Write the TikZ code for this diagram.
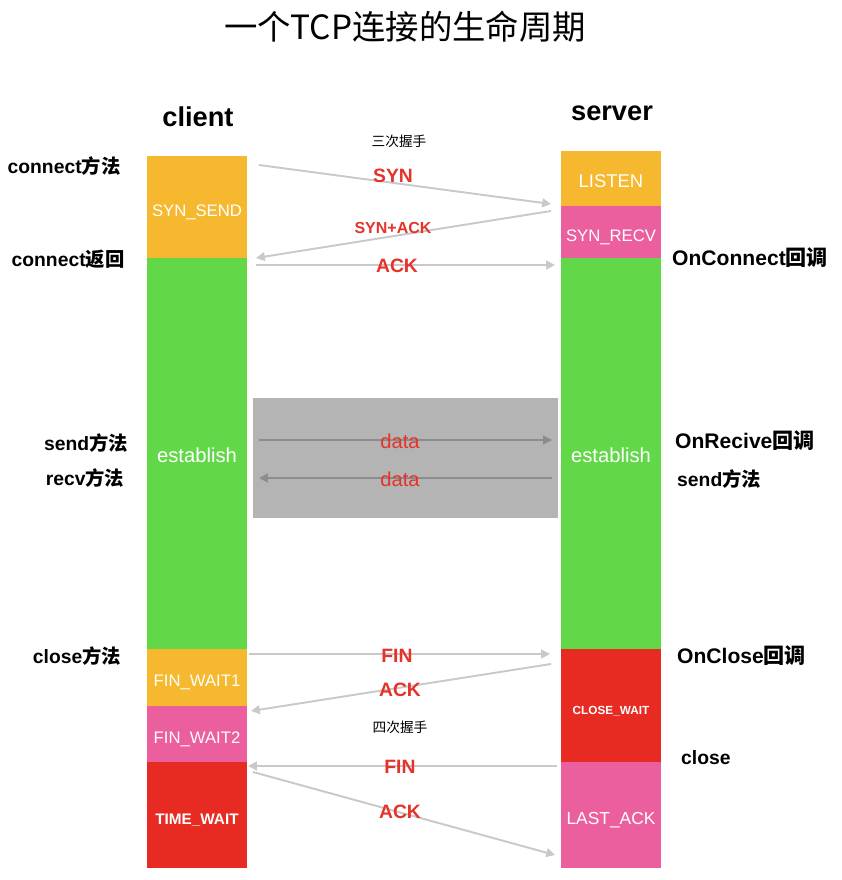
\documentclass[tikz,border=0pt]{standalone}
\usepackage{fontspec}
\setmainfont{Liberation Sans}
\newfontfamily\cjk{Noto Sans CJK SC}
\usetikzlibrary{positioning,arrows.meta}

\definecolor{stOrange}{HTML}{F5B82E}
\definecolor{stGreen}{HTML}{62D849}
\definecolor{stPink}{HTML}{EC5F9F}
\definecolor{stRed}{HTML}{E72B22}
\definecolor{msgRed}{HTML}{E5332A}
\definecolor{lineGray}{HTML}{C9C9C9}
\definecolor{dataGray}{HTML}{8C8C8C}
\definecolor{pipeGray}{HTML}{B4B4B4}

\tikzset{
  state/.style={minimum width=2cm, inner sep=0pt, outer sep=0pt, text=white,
                text height=1.05em, text depth=0pt,
                font=\fontsize{9.5}{11}\selectfont},
  msg/.style={lineGray, line width=1.1pt, -{Triangle[length=5pt,width=5pt]}},
  datamsg/.style={dataGray, line width=1.1pt, -{Triangle[length=5pt,width=5pt]}},
  msglabel/.style={text=msgRed, font=\bfseries\fontsize{11}{13}\selectfont},
  side/.style={font=\bfseries\fontsize{11}{13}\selectfont},
  callback/.style={anchor=west, font=\bfseries\fontsize{12}{14}\selectfont},
  role/.style={font=\bfseries\fontsize{15.5}{18}\selectfont},
  note/.style={font=\cjk\fontsize{7.8}{9}\selectfont},
}

\begin{document}
\begin{tikzpicture}[x=0.02cm, y=-0.02cm]
  \useasboundingbox (0,0) rectangle (842,880);

  \node (title) at (405,27) {\cjk\fontsize{19}{22}\selectfont 一个TCP连接的生命周期};
  \node[role] (client) at (198,117) {client};
  \node[role] (server) at (612,113) {server};

  % client states
  \node[state, fill=stOrange, minimum height=2.04cm, anchor=north] (csend) at (197,156) {SYN\_SEND};
  \node[state, fill=stGreen, minimum height=7.82cm, below=0pt of csend,
        font=\fontsize{11.5}{13}\selectfont] (cest) {establish};
  \node[state, fill=stOrange, minimum height=1.14cm, below=0pt of cest] (cfw1) {FIN\_WAIT1};
  \node[state, fill=stPink, minimum height=1.12cm, below=0pt of cfw1] (cfw2) {FIN\_WAIT2};
  \node[state, fill=stRed, minimum height=2.12cm, below=0pt of cfw2,
        font=\bfseries\fontsize{8.7}{10}\selectfont] (ctw) {TIME\_WAIT};

  % server states
  \node[state, fill=stOrange, minimum height=1.1cm, anchor=north,
        font=\fontsize{10.5}{12}\selectfont] (slisten) at (611,151) {LISTEN};
  \node[state, fill=stPink, minimum height=1.04cm, below=0pt of slisten] (srecv) {SYN\_RECV};
  \node[state, fill=stGreen, minimum height=7.82cm, below=0pt of srecv,
        font=\fontsize{11.5}{13}\selectfont] (sest) {establish};
  \node[state, fill=stRed, minimum height=2.26cm, below=0pt of sest,
        font=\bfseries\fontsize{6.7}{8}\selectfont] (scw) {CLOSE\_WAIT};
  \node[state, fill=stPink, minimum height=2.12cm, below=0pt of scw,
        font=\fontsize{9.9}{11}\selectfont] (slast) {LAST\_ACK};

  % data exchange area
  \node[fill=pipeGray, minimum width=6.1cm, minimum height=2.4cm, inner sep=0pt,
        anchor=north west] (pipe) at (253,398) {};

  % arrow ends
  \coordinate (syn-a) at (259,165);    \coordinate (syn-b) at (551,204);
  \coordinate (sa-a) at (551,211);     \coordinate (sa-b) at (256,258);
  \coordinate (ack-a) at (256,265);    \coordinate (ack-b) at (555,265);
  \coordinate (d1-a) at (259,440);     \coordinate (d1-b) at (552,440);
  \coordinate (d2-a) at (552,478);     \coordinate (d2-b) at (259,478);
  \coordinate (fin1-a) at (249,654);   \coordinate (fin1-b) at (550,654);
  \coordinate (ack2-a) at (551,664);   \coordinate (ack2-b) at (251,711);
  \coordinate (fin2-a) at (557,766);   \coordinate (fin2-b) at (248,766);
  \coordinate (ack3-a) at (253,772);   \coordinate (ack3-b) at (555,855);

  \draw[msg] (syn-a) -- (syn-b);
  \draw[msg] (sa-a) -- (sa-b);
  \draw[msg] (ack-a) -- (ack-b);
  \draw[datamsg] (d1-a) -- (d1-b);
  \draw[datamsg] (d2-a) -- (d2-b);
  \draw[msg] (fin1-a) -- (fin1-b);
  \draw[msg] (ack2-a) -- (ack2-b);
  \draw[msg] (fin2-a) -- (fin2-b);
  \draw[msg] (ack3-a) -- (ack3-b);

  % message labels
  \node[note] (hs3) at (399,141) {三次握手};
  \node[msglabel] (l-syn) at (393,176) {SYN};
  \node[msglabel, font=\bfseries\fontsize{9.1}{11}\selectfont] (l-synack) at (393,228) {SYN+ACK};
  \node[msglabel] (l-ack) at (397,266) {ACK};
  \node[msglabel, font=\fontsize{11.5}{13}\selectfont] (l-d1) at (400,441) {data};
  \node[msglabel, font=\fontsize{11.5}{13}\selectfont] (l-d2) at (400,479) {data};
  \node[msglabel] (l-fin1) at (397,656) {FIN};
  \node[msglabel] (l-ack2) at (400,690) {ACK};
  \node[note] (hs4) at (400,727) {四次握手};
  \node[msglabel] (l-fin2) at (400,767) {FIN};
  \node[msglabel] (l-ack3) at (400,812) {ACK};

  % client calls
  \node[side] (c-conn) at (64,166) {connect{\cjk 方法}};
  \node[side] (c-ret) at (68,259) {connect{\cjk 返回}};
  \node[side] (c-send) at (86,443) {send{\cjk 方法}};
  \node[side] (c-recv) at (85,478) {recv{\cjk 方法}};
  \node[side] (c-close) at (77,656) {close{\cjk 方法}};

  % server callbacks
  \node[callback] (s-conn) at (666,258) {OnConnect{\cjk 回调}};
  \node[callback] (s-recv) at (669,441) {OnRecive{\cjk 回调}};
  \node[callback, font=\bfseries\fontsize{11}{13}\selectfont] (s-send) at (671,479) {send{\cjk 方法}};
  \node[callback] (s-close) at (671,656) {OnClose{\cjk 回调}};
  \node[callback, font=\bfseries\fontsize{11}{13}\selectfont] (s-cl) at (675,758) {close};
\end{tikzpicture}
\end{document}
